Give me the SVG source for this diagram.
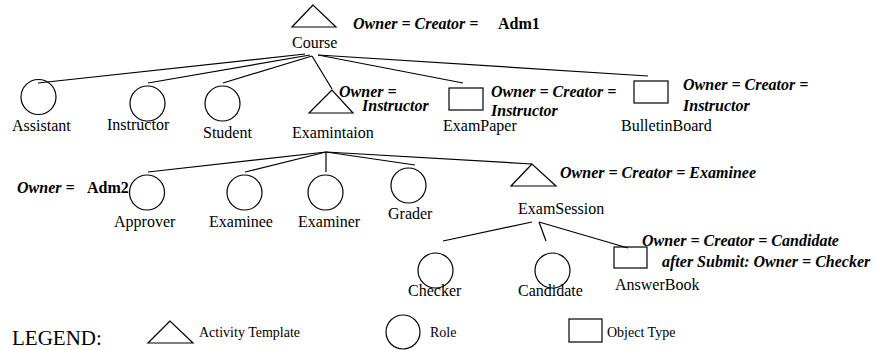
<svg xmlns="http://www.w3.org/2000/svg" width="878" height="350" viewBox="0 0 878 350">
<style>
.s{fill:none;stroke:#000;stroke-width:1.2}
.c{stroke:#000;stroke-width:1.2;fill:none}
text{fill:#000}
.l{font-size:16px}
.a{font-size:16px;font-weight:bold;font-style:italic}
.b{font-size:16px;font-weight:bold}
.g{font-size:14px}
</style>
<rect width="878" height="350" fill="#fff"/>
<g font-family="'Liberation Serif', 'DejaVu Serif', serif">
<g id="connectors">
<line class="c" x1="305" y1="54" x2="38" y2="83"/>
<line class="c" x1="310" y1="55" x2="148" y2="83"/>
<line class="c" x1="312" y1="56" x2="223" y2="83"/>
<line class="c" x1="312" y1="56" x2="332" y2="89"/>
<line class="c" x1="318" y1="55" x2="463" y2="83"/>
<line class="c" x1="318" y1="55" x2="648" y2="76"/>
<line class="c" x1="326" y1="152" x2="148" y2="172"/>
<line class="c" x1="326" y1="152" x2="245" y2="172"/>
<line class="c" x1="326" y1="152" x2="326" y2="172"/>
<line class="c" x1="326" y1="152" x2="415" y2="165"/>
<line class="c" x1="326" y1="152" x2="532" y2="164"/>
<line class="c" x1="532" y1="222" x2="443" y2="241"/>
<line class="c" x1="539" y1="222" x2="546" y2="241"/>
<line class="c" x1="539" y1="222" x2="628" y2="248"/>
</g>
<g id="course">
<polygon class="s" points="313,5 292,27 336,27"/>
<text class="l" x="292" y="48">Course</text>
<text class="a" x="353" y="29">Owner = Creator =</text>
<text class="b" x="498" y="29">Adm1</text>
</g>
<g id="assistant">
<circle class="s" cx="38.5" cy="97" r="17.5"/>
<text class="l" x="12" y="131">Assistant</text>
</g>
<g id="instructor">
<circle class="s" cx="147.5" cy="103.5" r="17.5"/>
<text class="l" x="107" y="130">Instructor</text>
</g>
<g id="student">
<circle class="s" cx="222.5" cy="103.5" r="17.5"/>
<text class="l" x="203" y="138">Student</text>
</g>
<g id="examintaion">
<polygon class="s" points="332,90 309,113 353,113"/>
<text class="l" x="292" y="138">Examintaion</text>
<text class="a" x="339" y="97">Owner =</text>
<text class="a" x="362" y="111">Instructor</text>
</g>
<g id="exampaper">
<rect class="s" x="449" y="88" width="34" height="22"/>
<text class="l" x="443" y="131">ExamPaper</text>
<text class="a" x="491" y="97">Owner = Creator =</text>
<text class="a" x="491" y="116">Instructor</text>
</g>
<g id="bulletinboard">
<rect class="s" x="634" y="81" width="34" height="22"/>
<text class="l" x="621" y="131">BulletinBoard</text>
<text class="a" x="683" y="90">Owner = Creator =</text>
<text class="a" x="683" y="111">Instructor</text>
</g>
<g id="approver">
<circle class="s" cx="147" cy="192.5" r="17.5"/>
<text class="l" x="114" y="227">Approver</text>
<text class="a" x="17" y="193">Owner =</text>
<text class="b" x="87" y="193">Adm2</text>
</g>
<g id="examinee">
<circle class="s" cx="244.5" cy="192.5" r="17.5"/>
<text class="l" x="209" y="227">Examinee</text>
</g>
<g id="examiner">
<circle class="s" cx="325.5" cy="192.5" r="17.5"/>
<text class="l" x="298" y="227">Examiner</text>
</g>
<g id="grader">
<circle class="s" cx="408.5" cy="185.5" r="17.5"/>
<text class="l" x="388" y="219">Grader</text>
</g>
<g id="examsession">
<polygon class="s" points="532,164 511,186 556,186"/>
<text class="l" x="518" y="214">ExamSession</text>
<text class="a" x="560" y="178">Owner = Creator = Examinee</text>
</g>
<g id="checker">
<circle class="s" cx="435.5" cy="270.5" r="17.5"/>
<text class="l" x="408" y="296">Checker</text>
</g>
<g id="candidate">
<circle class="s" cx="552.5" cy="270.5" r="17.5"/>
<text class="l" x="518" y="296">Candidate</text>
</g>
<g id="answerbook">
<rect class="s" x="614" y="247" width="33" height="21"/>
<text class="l" x="615" y="290">AnswerBook</text>
<text class="a" x="642" y="246">Owner = Creator = Candidate</text>
<text class="a" x="662" y="267">after Submit: Owner = Checker</text>
</g>
<g id="legend">
<text class="l" x="12" y="345" style="font-size:21px">LEGEND:</text>
<polygon class="s" points="170,321 148,343 193,343"/>
<text class="g" x="199" y="337">Activity Template</text>
<circle class="s" cx="403" cy="332" r="17"/>
<text class="g" x="430" y="337">Role</text>
<rect class="s" x="569" y="319" width="33" height="23"/>
<text class="g" x="607" y="337">Object Type</text>
</g>
</g>
</svg>
